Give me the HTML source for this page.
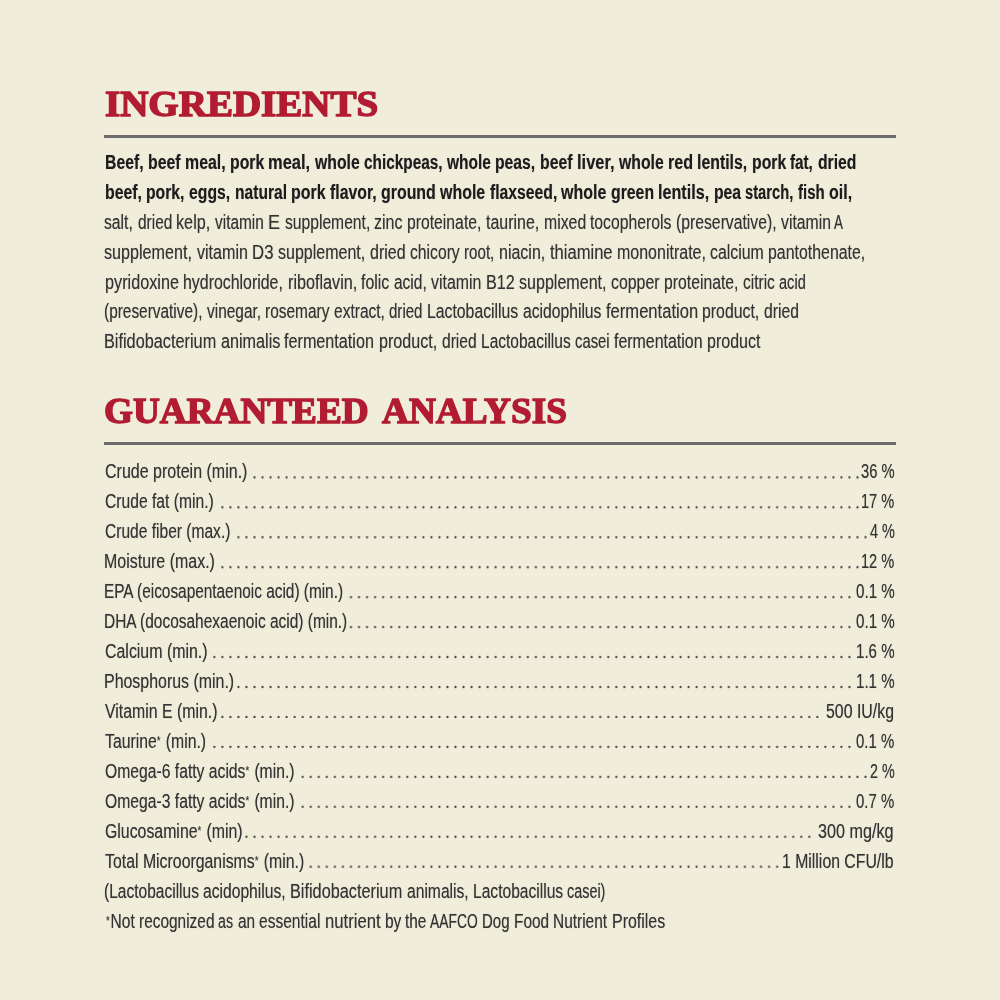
<!DOCTYPE html>
<html><head><meta charset="utf-8"><style>
html,body{margin:0;padding:0}
body{width:1000px;height:1000px;background:#f0eedb;position:relative;overflow:hidden}
.t{position:absolute;white-space:nowrap;transform-origin:0 0;filter:blur(0.5px)}

.rule{position:absolute;left:104px;width:792px;height:3px;background:#6c6c6c;filter:blur(0.4px)}
.ast{font-size:12px;position:relative;top:-3px;margin-right:1px}
.dots{position:absolute;left:0;top:0;filter:blur(0.5px)}
</style></head>
<body>
<div class="rule" style="top:135px"></div>
<div class="rule" style="top:442px"></div>
<svg class="dots" width="1000" height="1000" viewBox="0 0 1000 1000"><defs><pattern id="dp" patternUnits="userSpaceOnUse" x="250.480" y="462.425" width="8.04" height="29.95"><circle cx="4.020" cy="14.975" r="1.15" fill="#454545"/></pattern></defs><rect x="252.00" y="474.40" width="608.00" height="6" fill="url(#dp)"/><rect x="219.84" y="504.35" width="640.16" height="6" fill="url(#dp)"/><rect x="235.92" y="534.30" width="632.12" height="6" fill="url(#dp)"/><rect x="219.84" y="564.25" width="640.16" height="6" fill="url(#dp)"/><rect x="348.48" y="594.20" width="503.48" height="6" fill="url(#dp)"/><rect x="348.48" y="624.15" width="503.48" height="6" fill="url(#dp)"/><rect x="211.80" y="654.10" width="640.16" height="6" fill="url(#dp)"/><rect x="235.92" y="684.05" width="616.04" height="6" fill="url(#dp)"/><rect x="219.84" y="714.00" width="599.96" height="6" fill="url(#dp)"/><rect x="211.80" y="743.95" width="640.16" height="6" fill="url(#dp)"/><rect x="300.24" y="773.90" width="567.80" height="6" fill="url(#dp)"/><rect x="300.24" y="803.85" width="551.72" height="6" fill="url(#dp)"/><rect x="243.96" y="833.80" width="567.80" height="6" fill="url(#dp)"/><rect x="308.28" y="863.75" width="471.32" height="6" fill="url(#dp)"/></svg>
<div class="t" style="left:104.80px;top:148.40px;font-family:'Liberation Sans', sans-serif;font-weight:700;font-size:19.5px;line-height:29px;color:#1c1c1c;transform:scaleX(0.8084);;text-shadow:0 0 1px rgba(40,40,40,0.45)">Beef,</div><div class="t" style="left:147.73px;top:148.40px;font-family:'Liberation Sans', sans-serif;font-weight:700;font-size:19.5px;line-height:29px;color:#1c1c1c;transform:scaleX(0.8123);;text-shadow:0 0 1px rgba(40,40,40,0.45)">beef</div><div class="t" style="left:184.70px;top:148.40px;font-family:'Liberation Sans', sans-serif;font-weight:700;font-size:19.5px;line-height:29px;color:#1c1c1c;transform:scaleX(0.8153);;text-shadow:0 0 1px rgba(40,40,40,0.45)">meal,</div><div class="t" style="left:229.75px;top:148.40px;font-family:'Liberation Sans', sans-serif;font-weight:700;font-size:19.5px;line-height:29px;color:#1c1c1c;transform:scaleX(0.8096);;text-shadow:0 0 1px rgba(40,40,40,0.45)">pork</div><div class="t" style="left:268.35px;top:148.40px;font-family:'Liberation Sans', sans-serif;font-weight:700;font-size:19.5px;line-height:29px;color:#1c1c1c;transform:scaleX(0.8441);;text-shadow:0 0 1px rgba(40,40,40,0.45)">meal,</div><div class="t" style="left:314.84px;top:148.40px;font-family:'Liberation Sans', sans-serif;font-weight:700;font-size:19.5px;line-height:29px;color:#1c1c1c;transform:scaleX(0.8084);;text-shadow:0 0 1px rgba(40,40,40,0.45)">whole</div><div class="t" style="left:363.90px;top:148.40px;font-family:'Liberation Sans', sans-serif;font-weight:700;font-size:19.5px;line-height:29px;color:#1c1c1c;transform:scaleX(0.7875);;text-shadow:0 0 1px rgba(40,40,40,0.45)">chickpeas,</div><div class="t" style="left:446.83px;top:148.40px;font-family:'Liberation Sans', sans-serif;font-weight:700;font-size:19.5px;line-height:29px;color:#1c1c1c;transform:scaleX(0.7953);;text-shadow:0 0 1px rgba(40,40,40,0.45)">whole</div><div class="t" style="left:495.17px;top:148.40px;font-family:'Liberation Sans', sans-serif;font-weight:700;font-size:19.5px;line-height:29px;color:#1c1c1c;transform:scaleX(0.8068);;text-shadow:0 0 1px rgba(40,40,40,0.45)">peas,</div><div class="t" style="left:539.79px;top:148.40px;font-family:'Liberation Sans', sans-serif;font-weight:700;font-size:19.5px;line-height:29px;color:#1c1c1c;transform:scaleX(0.8084);;text-shadow:0 0 1px rgba(40,40,40,0.45)">beef</div><div class="t" style="left:576.60px;top:148.40px;font-family:'Liberation Sans', sans-serif;font-weight:700;font-size:19.5px;line-height:29px;color:#1c1c1c;transform:scaleX(0.8442);;text-shadow:0 0 1px rgba(40,40,40,0.45)">liver,</div><div class="t" style="left:618.51px;top:148.40px;font-family:'Liberation Sans', sans-serif;font-weight:700;font-size:19.5px;line-height:29px;color:#1c1c1c;transform:scaleX(0.8103);;text-shadow:0 0 1px rgba(40,40,40,0.45)">whole</div><div class="t" style="left:667.67px;top:148.40px;font-family:'Liberation Sans', sans-serif;font-weight:700;font-size:19.5px;line-height:29px;color:#1c1c1c;transform:scaleX(0.8293);;text-shadow:0 0 1px rgba(40,40,40,0.45)">red</div><div class="t" style="left:697.23px;top:148.40px;font-family:'Liberation Sans', sans-serif;font-weight:700;font-size:19.5px;line-height:29px;color:#1c1c1c;transform:scaleX(0.8125);;text-shadow:0 0 1px rgba(40,40,40,0.45)">lentils,</div><div class="t" style="left:751.80px;top:148.40px;font-family:'Liberation Sans', sans-serif;font-weight:700;font-size:19.5px;line-height:29px;color:#1c1c1c;transform:scaleX(0.8084);;text-shadow:0 0 1px rgba(40,40,40,0.45)">pork</div><div class="t" style="left:790.35px;top:148.40px;font-family:'Liberation Sans', sans-serif;font-weight:700;font-size:19.5px;line-height:29px;color:#1c1c1c;transform:scaleX(0.7815);;text-shadow:0 0 1px rgba(40,40,40,0.45)">fat,</div><div class="t" style="left:817.60px;top:148.40px;font-family:'Liberation Sans', sans-serif;font-weight:700;font-size:19.5px;line-height:29px;color:#1c1c1c;transform:scaleX(0.8064);;text-shadow:0 0 1px rgba(40,40,40,0.45)">dried</div><div class="t" style="left:104.80px;top:178.20px;font-family:'Liberation Sans', sans-serif;font-weight:700;font-size:19.5px;line-height:29px;color:#1c1c1c;transform:scaleX(0.8136);;text-shadow:0 0 1px rgba(40,40,40,0.45)">beef,</div><div class="t" style="left:146.20px;top:178.20px;font-family:'Liberation Sans', sans-serif;font-weight:700;font-size:19.5px;line-height:29px;color:#1c1c1c;transform:scaleX(0.8067);;text-shadow:0 0 1px rgba(40,40,40,0.45)">pork,</div><div class="t" style="left:189.04px;top:178.20px;font-family:'Liberation Sans', sans-serif;font-weight:700;font-size:19.5px;line-height:29px;color:#1c1c1c;transform:scaleX(0.8078);;text-shadow:0 0 1px rgba(40,40,40,0.45)">eggs,</div><div class="t" style="left:234.56px;top:178.20px;font-family:'Liberation Sans', sans-serif;font-weight:700;font-size:19.5px;line-height:29px;color:#1c1c1c;transform:scaleX(0.7997);;text-shadow:0 0 1px rgba(40,40,40,0.45)">natural</div><div class="t" style="left:290.93px;top:178.20px;font-family:'Liberation Sans', sans-serif;font-weight:700;font-size:19.5px;line-height:29px;color:#1c1c1c;transform:scaleX(0.8176);;text-shadow:0 0 1px rgba(40,40,40,0.45)">pork</div><div class="t" style="left:329.87px;top:178.20px;font-family:'Liberation Sans', sans-serif;font-weight:700;font-size:19.5px;line-height:29px;color:#1c1c1c;transform:scaleX(0.8104);;text-shadow:0 0 1px rgba(40,40,40,0.45)">flavor,</div><div class="t" style="left:380.80px;top:178.20px;font-family:'Liberation Sans', sans-serif;font-weight:700;font-size:19.5px;line-height:29px;color:#1c1c1c;transform:scaleX(0.8165);;text-shadow:0 0 1px rgba(40,40,40,0.45)">ground</div><div class="t" style="left:440.02px;top:178.20px;font-family:'Liberation Sans', sans-serif;font-weight:700;font-size:19.5px;line-height:29px;color:#1c1c1c;transform:scaleX(0.8181);;text-shadow:0 0 1px rgba(40,40,40,0.45)">whole</div><div class="t" style="left:489.60px;top:178.20px;font-family:'Liberation Sans', sans-serif;font-weight:700;font-size:19.5px;line-height:29px;color:#1c1c1c;transform:scaleX(0.8067);;text-shadow:0 0 1px rgba(40,40,40,0.45)">flaxseed,</div><div class="t" style="left:561.32px;top:178.20px;font-family:'Liberation Sans', sans-serif;font-weight:700;font-size:19.5px;line-height:29px;color:#1c1c1c;transform:scaleX(0.8192);;text-shadow:0 0 1px rgba(40,40,40,0.45)">whole</div><div class="t" style="left:610.96px;top:178.20px;font-family:'Liberation Sans', sans-serif;font-weight:700;font-size:19.5px;line-height:29px;color:#1c1c1c;transform:scaleX(0.8108);;text-shadow:0 0 1px rgba(40,40,40,0.45)">green</div><div class="t" style="left:658.40px;top:178.20px;font-family:'Liberation Sans', sans-serif;font-weight:700;font-size:19.5px;line-height:29px;color:#1c1c1c;transform:scaleX(0.8280);;text-shadow:0 0 1px rgba(40,40,40,0.45)">lentils,</div><div class="t" style="left:713.91px;top:178.20px;font-family:'Liberation Sans', sans-serif;font-weight:700;font-size:19.5px;line-height:29px;color:#1c1c1c;transform:scaleX(0.8067);;text-shadow:0 0 1px rgba(40,40,40,0.45)">pea</div><div class="t" style="left:745.40px;top:178.20px;font-family:'Liberation Sans', sans-serif;font-weight:700;font-size:19.5px;line-height:29px;color:#1c1c1c;transform:scaleX(0.7541);;text-shadow:0 0 1px rgba(40,40,40,0.45)">starch,</div><div class="t" style="left:798.00px;top:178.20px;font-family:'Liberation Sans', sans-serif;font-weight:700;font-size:19.5px;line-height:29px;color:#1c1c1c;transform:scaleX(0.7672);;text-shadow:0 0 1px rgba(40,40,40,0.45)">fish</div><div class="t" style="left:829.00px;top:178.20px;font-family:'Liberation Sans', sans-serif;font-weight:700;font-size:19.5px;line-height:29px;color:#1c1c1c;transform:scaleX(0.8214);;text-shadow:0 0 1px rgba(40,40,40,0.45)">oil,</div><div class="t" style="left:104.40px;top:208.00px;font-family:'Liberation Sans', sans-serif;font-weight:400;font-size:19.5px;line-height:29px;color:#333333;transform:scaleX(0.8066);;text-shadow:0 0 1px rgba(40,40,40,0.45)">salt,</div><div class="t" style="left:137.62px;top:208.00px;font-family:'Liberation Sans', sans-serif;font-weight:400;font-size:19.5px;line-height:29px;color:#333333;transform:scaleX(0.7930);;text-shadow:0 0 1px rgba(40,40,40,0.45)">dried</div><div class="t" style="left:176.39px;top:208.00px;font-family:'Liberation Sans', sans-serif;font-weight:400;font-size:19.5px;line-height:29px;color:#333333;transform:scaleX(0.8317);;text-shadow:0 0 1px rgba(40,40,40,0.45)">kelp,</div><div class="t" style="left:215.01px;top:208.00px;font-family:'Liberation Sans', sans-serif;font-weight:400;font-size:19.5px;line-height:29px;color:#333333;transform:scaleX(0.7903);;text-shadow:0 0 1px rgba(40,40,40,0.45)">vitamin</div><div class="t" style="left:268.08px;top:208.00px;font-family:'Liberation Sans', sans-serif;font-weight:400;font-size:19.5px;line-height:29px;color:#333333;transform:scaleX(0.9275);;text-shadow:0 0 1px rgba(40,40,40,0.45)">E</div><div class="t" style="left:284.84px;top:208.00px;font-family:'Liberation Sans', sans-serif;font-weight:400;font-size:19.5px;line-height:29px;color:#333333;transform:scaleX(0.8023);;text-shadow:0 0 1px rgba(40,40,40,0.45)">supplement,</div><div class="t" style="left:374.45px;top:208.00px;font-family:'Liberation Sans', sans-serif;font-weight:400;font-size:19.5px;line-height:29px;color:#333333;transform:scaleX(0.8194);;text-shadow:0 0 1px rgba(40,40,40,0.45)">zinc</div><div class="t" style="left:407.25px;top:208.00px;font-family:'Liberation Sans', sans-serif;font-weight:400;font-size:19.5px;line-height:29px;color:#333333;transform:scaleX(0.8071);;text-shadow:0 0 1px rgba(40,40,40,0.45)">proteinate,</div><div class="t" style="left:486.00px;top:208.00px;font-family:'Liberation Sans', sans-serif;font-weight:400;font-size:19.5px;line-height:29px;color:#333333;transform:scaleX(0.8185);;text-shadow:0 0 1px rgba(40,40,40,0.45)">taurine,</div><div class="t" style="left:543.60px;top:208.00px;font-family:'Liberation Sans', sans-serif;font-weight:400;font-size:19.5px;line-height:29px;color:#333333;transform:scaleX(0.8116);;text-shadow:0 0 1px rgba(40,40,40,0.45)">mixed</div><div class="t" style="left:590.20px;top:208.00px;font-family:'Liberation Sans', sans-serif;font-weight:400;font-size:19.5px;line-height:29px;color:#333333;transform:scaleX(0.8066);;text-shadow:0 0 1px rgba(40,40,40,0.45)">tocopherols</div><div class="t" style="left:675.90px;top:208.00px;font-family:'Liberation Sans', sans-serif;font-weight:400;font-size:19.5px;line-height:29px;color:#333333;transform:scaleX(0.8074);;text-shadow:0 0 1px rgba(40,40,40,0.45)">(preservative),</div><div class="t" style="left:780.89px;top:208.00px;font-family:'Liberation Sans', sans-serif;font-weight:400;font-size:19.5px;line-height:29px;color:#333333;transform:scaleX(0.8094);;text-shadow:0 0 1px rgba(40,40,40,0.45)">vitamin</div><div class="t" style="left:834.40px;top:208.00px;font-family:'Liberation Sans', sans-serif;font-weight:400;font-size:19.5px;line-height:29px;color:#333333;transform:scaleX(0.6856);;text-shadow:0 0 1px rgba(40,40,40,0.45)">A</div><div class="t" style="left:104.40px;top:237.80px;font-family:'Liberation Sans', sans-serif;font-weight:400;font-size:19.5px;line-height:29px;color:#333333;transform:scaleX(0.8280);;text-shadow:0 0 1px rgba(40,40,40,0.45)">supplement,</div><div class="t" style="left:196.80px;top:237.80px;font-family:'Liberation Sans', sans-serif;font-weight:400;font-size:19.5px;line-height:29px;color:#333333;transform:scaleX(0.8246);;text-shadow:0 0 1px rgba(40,40,40,0.45)">vitamin</div><div class="t" style="left:252.15px;top:237.80px;font-family:'Liberation Sans', sans-serif;font-weight:400;font-size:19.5px;line-height:29px;color:#333333;transform:scaleX(0.8615);;text-shadow:0 0 1px rgba(40,40,40,0.45)">D3</div><div class="t" style="left:278.09px;top:237.80px;font-family:'Liberation Sans', sans-serif;font-weight:400;font-size:19.5px;line-height:29px;color:#333333;transform:scaleX(0.8215);;text-shadow:0 0 1px rgba(40,40,40,0.45)">supplement,</div><div class="t" style="left:369.80px;top:237.80px;font-family:'Liberation Sans', sans-serif;font-weight:400;font-size:19.5px;line-height:29px;color:#333333;transform:scaleX(0.8204);;text-shadow:0 0 1px rgba(40,40,40,0.45)">dried</div><div class="t" style="left:409.83px;top:237.80px;font-family:'Liberation Sans', sans-serif;font-weight:400;font-size:19.5px;line-height:29px;color:#333333;transform:scaleX(0.8048);;text-shadow:0 0 1px rgba(40,40,40,0.45)">chicory</div><div class="t" style="left:464.00px;top:237.80px;font-family:'Liberation Sans', sans-serif;font-weight:400;font-size:19.5px;line-height:29px;color:#333333;transform:scaleX(0.7765);;text-shadow:0 0 1px rgba(40,40,40,0.45)">root,</div><div class="t" style="left:498.80px;top:237.80px;font-family:'Liberation Sans', sans-serif;font-weight:400;font-size:19.5px;line-height:29px;color:#333333;transform:scaleX(0.8204);;text-shadow:0 0 1px rgba(40,40,40,0.45)">niacin,</div><div class="t" style="left:549.50px;top:237.80px;font-family:'Liberation Sans', sans-serif;font-weight:400;font-size:19.5px;line-height:29px;color:#333333;transform:scaleX(0.8486);;text-shadow:0 0 1px rgba(40,40,40,0.45)">thiamine</div><div class="t" style="left:616.51px;top:237.80px;font-family:'Liberation Sans', sans-serif;font-weight:400;font-size:19.5px;line-height:29px;color:#333333;transform:scaleX(0.8204);;text-shadow:0 0 1px rgba(40,40,40,0.45)">mononitrate,</div><div class="t" style="left:709.90px;top:237.80px;font-family:'Liberation Sans', sans-serif;font-weight:400;font-size:19.5px;line-height:29px;color:#333333;transform:scaleX(0.8131);;text-shadow:0 0 1px rgba(40,40,40,0.45)">calcium</div><div class="t" style="left:768.10px;top:237.80px;font-family:'Liberation Sans', sans-serif;font-weight:400;font-size:19.5px;line-height:29px;color:#333333;transform:scaleX(0.8153);;text-shadow:0 0 1px rgba(40,40,40,0.45)">pantothenate,</div><div class="t" style="left:104.80px;top:267.60px;font-family:'Liberation Sans', sans-serif;font-weight:400;font-size:19.5px;line-height:29px;color:#333333;transform:scaleX(0.8323);;text-shadow:0 0 1px rgba(40,40,40,0.45)">pyridoxine</div><div class="t" style="left:183.20px;top:267.60px;font-family:'Liberation Sans', sans-serif;font-weight:400;font-size:19.5px;line-height:29px;color:#333333;transform:scaleX(0.8155);;text-shadow:0 0 1px rgba(40,40,40,0.45)">hydrochloride,</div><div class="t" style="left:287.50px;top:267.60px;font-family:'Liberation Sans', sans-serif;font-weight:400;font-size:19.5px;line-height:29px;color:#333333;transform:scaleX(0.8302);;text-shadow:0 0 1px rgba(40,40,40,0.45)">riboflavin,</div><div class="t" style="left:361.20px;top:267.60px;font-family:'Liberation Sans', sans-serif;font-weight:400;font-size:19.5px;line-height:29px;color:#333333;transform:scaleX(0.8144);;text-shadow:0 0 1px rgba(40,40,40,0.45)">folic</div><div class="t" style="left:393.87px;top:267.60px;font-family:'Liberation Sans', sans-serif;font-weight:400;font-size:19.5px;line-height:29px;color:#333333;transform:scaleX(0.7949);;text-shadow:0 0 1px rgba(40,40,40,0.45)">acid,</div><div class="t" style="left:431.06px;top:267.60px;font-family:'Liberation Sans', sans-serif;font-weight:400;font-size:19.5px;line-height:29px;color:#333333;transform:scaleX(0.8144);;text-shadow:0 0 1px rgba(40,40,40,0.45)">vitamin</div><div class="t" style="left:485.77px;top:267.60px;font-family:'Liberation Sans', sans-serif;font-weight:400;font-size:19.5px;line-height:29px;color:#333333;transform:scaleX(0.8307);;text-shadow:0 0 1px rgba(40,40,40,0.45)">B12</div><div class="t" style="left:519.00px;top:267.60px;font-family:'Liberation Sans', sans-serif;font-weight:400;font-size:19.5px;line-height:29px;color:#333333;transform:scaleX(0.8239);;text-shadow:0 0 1px rgba(40,40,40,0.45)">supplement,</div><div class="t" style="left:610.93px;top:267.60px;font-family:'Liberation Sans', sans-serif;font-weight:400;font-size:19.5px;line-height:29px;color:#333333;transform:scaleX(0.8144);;text-shadow:0 0 1px rgba(40,40,40,0.45)">copper</div><div class="t" style="left:663.90px;top:267.60px;font-family:'Liberation Sans', sans-serif;font-weight:400;font-size:19.5px;line-height:29px;color:#333333;transform:scaleX(0.8082);;text-shadow:0 0 1px rgba(40,40,40,0.45)">proteinate,</div><div class="t" style="left:742.80px;top:267.60px;font-family:'Liberation Sans', sans-serif;font-weight:400;font-size:19.5px;line-height:29px;color:#333333;transform:scaleX(0.7955);;text-shadow:0 0 1px rgba(40,40,40,0.45)">citric</div><div class="t" style="left:779.10px;top:267.60px;font-family:'Liberation Sans', sans-serif;font-weight:400;font-size:19.5px;line-height:29px;color:#333333;transform:scaleX(0.7472);;text-shadow:0 0 1px rgba(40,40,40,0.45)">acid</div><div class="t" style="left:104.00px;top:297.40px;font-family:'Liberation Sans', sans-serif;font-weight:400;font-size:19.5px;line-height:29px;color:#333333;transform:scaleX(0.7901);;text-shadow:0 0 1px rgba(40,40,40,0.45)">(preservative),</div><div class="t" style="left:206.83px;top:297.40px;font-family:'Liberation Sans', sans-serif;font-weight:400;font-size:19.5px;line-height:29px;color:#333333;transform:scaleX(0.7916);;text-shadow:0 0 1px rgba(40,40,40,0.45)">vinegar,</div><div class="t" style="left:265.27px;top:297.40px;font-family:'Liberation Sans', sans-serif;font-weight:400;font-size:19.5px;line-height:29px;color:#333333;transform:scaleX(0.7933);;text-shadow:0 0 1px rgba(40,40,40,0.45)">rosemary</div><div class="t" style="left:334.10px;top:297.40px;font-family:'Liberation Sans', sans-serif;font-weight:400;font-size:19.5px;line-height:29px;color:#333333;transform:scaleX(0.7962);;text-shadow:0 0 1px rgba(40,40,40,0.45)">extract,</div><div class="t" style="left:389.37px;top:297.40px;font-family:'Liberation Sans', sans-serif;font-weight:400;font-size:19.5px;line-height:29px;color:#333333;transform:scaleX(0.7719);;text-shadow:0 0 1px rgba(40,40,40,0.45)">dried</div><div class="t" style="left:427.22px;top:297.40px;font-family:'Liberation Sans', sans-serif;font-weight:400;font-size:19.5px;line-height:29px;color:#333333;transform:scaleX(0.8092);;text-shadow:0 0 1px rgba(40,40,40,0.45)">Lactobacillus</div><div class="t" style="left:522.81px;top:297.40px;font-family:'Liberation Sans', sans-serif;font-weight:400;font-size:19.5px;line-height:29px;color:#333333;transform:scaleX(0.8038);;text-shadow:0 0 1px rgba(40,40,40,0.45)">acidophilus</div><div class="t" style="left:605.60px;top:297.40px;font-family:'Liberation Sans', sans-serif;font-weight:400;font-size:19.5px;line-height:29px;color:#333333;transform:scaleX(0.8501);;text-shadow:0 0 1px rgba(40,40,40,0.45)">fermentation</div><div class="t" style="left:702.10px;top:297.40px;font-family:'Liberation Sans', sans-serif;font-weight:400;font-size:19.5px;line-height:29px;color:#333333;transform:scaleX(0.8124);;text-shadow:0 0 1px rgba(40,40,40,0.45)">product,</div><div class="t" style="left:763.70px;top:297.40px;font-family:'Liberation Sans', sans-serif;font-weight:400;font-size:19.5px;line-height:29px;color:#333333;transform:scaleX(0.8047);;text-shadow:0 0 1px rgba(40,40,40,0.45)">dried</div><div class="t" style="left:103.97px;top:327.20px;font-family:'Liberation Sans', sans-serif;font-weight:400;font-size:19.5px;line-height:29px;color:#333333;transform:scaleX(0.8349);;text-shadow:0 0 1px rgba(40,40,40,0.45)">Bifidobacterium</div><div class="t" style="left:220.60px;top:327.20px;font-family:'Liberation Sans', sans-serif;font-weight:400;font-size:19.5px;line-height:29px;color:#333333;transform:scaleX(0.8299);;text-shadow:0 0 1px rgba(40,40,40,0.45)">animalis</div><div class="t" style="left:284.40px;top:327.20px;font-family:'Liberation Sans', sans-serif;font-weight:400;font-size:19.5px;line-height:29px;color:#333333;transform:scaleX(0.8300);;text-shadow:0 0 1px rgba(40,40,40,0.45)">fermentation</div><div class="t" style="left:378.80px;top:327.20px;font-family:'Liberation Sans', sans-serif;font-weight:400;font-size:19.5px;line-height:29px;color:#333333;transform:scaleX(0.8272);;text-shadow:0 0 1px rgba(40,40,40,0.45)">product,</div><div class="t" style="left:441.52px;top:327.20px;font-family:'Liberation Sans', sans-serif;font-weight:400;font-size:19.5px;line-height:29px;color:#333333;transform:scaleX(0.8002);;text-shadow:0 0 1px rgba(40,40,40,0.45)">dried</div><div class="t" style="left:480.69px;top:327.20px;font-family:'Liberation Sans', sans-serif;font-weight:400;font-size:19.5px;line-height:29px;color:#333333;transform:scaleX(0.7956);;text-shadow:0 0 1px rgba(40,40,40,0.45)">Lactobacillus</div><div class="t" style="left:574.80px;top:327.20px;font-family:'Liberation Sans', sans-serif;font-weight:400;font-size:19.5px;line-height:29px;color:#333333;transform:scaleX(0.7588);;text-shadow:0 0 1px rgba(40,40,40,0.45)">casei</div><div class="t" style="left:613.81px;top:327.20px;font-family:'Liberation Sans', sans-serif;font-weight:400;font-size:19.5px;line-height:29px;color:#333333;transform:scaleX(0.8169);;text-shadow:0 0 1px rgba(40,40,40,0.45)">fermentation</div><div class="t" style="left:706.80px;top:327.20px;font-family:'Liberation Sans', sans-serif;font-weight:400;font-size:19.5px;line-height:29px;color:#333333;transform:scaleX(0.8212);;text-shadow:0 0 1px rgba(40,40,40,0.45)">product</div><div class="t c" style="left:104.60px;top:457.30px;font-family:'Liberation Sans', sans-serif;font-weight:400;font-size:19.5px;line-height:29px;color:#333333;transform:scaleX(0.8214);;text-shadow:0 0 1px rgba(40,40,40,0.45)">Crude protein (min.)</div><div class="t c" style="left:860.70px;top:457.30px;font-family:'Liberation Sans', sans-serif;font-weight:400;font-size:19.5px;line-height:29px;color:#333333;transform:scaleX(0.7578);;text-shadow:0 0 1px rgba(40,40,40,0.45)">36 %</div><div class="t c" style="left:104.60px;top:487.25px;font-family:'Liberation Sans', sans-serif;font-weight:400;font-size:19.5px;line-height:29px;color:#333333;transform:scaleX(0.8030);;text-shadow:0 0 1px rgba(40,40,40,0.45)">Crude fat (min.)</div><div class="t c" style="left:861.15px;top:487.25px;font-family:'Liberation Sans', sans-serif;font-weight:400;font-size:19.5px;line-height:29px;color:#333333;transform:scaleX(0.7477);;text-shadow:0 0 1px rgba(40,40,40,0.45)">17 %</div><div class="t c" style="left:104.60px;top:517.20px;font-family:'Liberation Sans', sans-serif;font-weight:400;font-size:19.5px;line-height:29px;color:#333333;transform:scaleX(0.7981);;text-shadow:0 0 1px rgba(40,40,40,0.45)">Crude fiber (max.)</div><div class="t c" style="left:869.60px;top:517.20px;font-family:'Liberation Sans', sans-serif;font-weight:400;font-size:19.5px;line-height:29px;color:#333333;transform:scaleX(0.7412);;text-shadow:0 0 1px rgba(40,40,40,0.45)">4 %</div><div class="t c" style="left:103.78px;top:547.15px;font-family:'Liberation Sans', sans-serif;font-weight:400;font-size:19.5px;line-height:29px;color:#333333;transform:scaleX(0.8187);;text-shadow:0 0 1px rgba(40,40,40,0.45)">Moisture (max.)</div><div class="t c" style="left:861.15px;top:547.15px;font-family:'Liberation Sans', sans-serif;font-weight:400;font-size:19.5px;line-height:29px;color:#333333;transform:scaleX(0.7477);;text-shadow:0 0 1px rgba(40,40,40,0.45)">12 %</div><div class="t c" style="left:103.81px;top:577.10px;font-family:'Liberation Sans', sans-serif;font-weight:400;font-size:19.5px;line-height:29px;color:#333333;transform:scaleX(0.7887);;text-shadow:0 0 1px rgba(40,40,40,0.45)">EPA (eicosapentaenoic acid) (min.)</div><div class="t c" style="left:855.90px;top:577.10px;font-family:'Liberation Sans', sans-serif;font-weight:400;font-size:19.5px;line-height:29px;color:#333333;transform:scaleX(0.7780);;text-shadow:0 0 1px rgba(40,40,40,0.45)">0.1 %</div><div class="t c" style="left:103.81px;top:607.05px;font-family:'Liberation Sans', sans-serif;font-weight:400;font-size:19.5px;line-height:29px;color:#333333;transform:scaleX(0.7931);;text-shadow:0 0 1px rgba(40,40,40,0.45)">DHA (docosahexaenoic acid) (min.)</div><div class="t c" style="left:855.90px;top:607.05px;font-family:'Liberation Sans', sans-serif;font-weight:400;font-size:19.5px;line-height:29px;color:#333333;transform:scaleX(0.7780);;text-shadow:0 0 1px rgba(40,40,40,0.45)">0.1 %</div><div class="t c" style="left:104.60px;top:637.00px;font-family:'Liberation Sans', sans-serif;font-weight:400;font-size:19.5px;line-height:29px;color:#333333;transform:scaleX(0.8160);;text-shadow:0 0 1px rgba(40,40,40,0.45)">Calcium (min.)</div><div class="t c" style="left:856.13px;top:637.00px;font-family:'Liberation Sans', sans-serif;font-weight:400;font-size:19.5px;line-height:29px;color:#333333;transform:scaleX(0.7735);;text-shadow:0 0 1px rgba(40,40,40,0.45)">1.6 %</div><div class="t c" style="left:103.78px;top:666.95px;font-family:'Liberation Sans', sans-serif;font-weight:400;font-size:19.5px;line-height:29px;color:#333333;transform:scaleX(0.8171);;text-shadow:0 0 1px rgba(40,40,40,0.45)">Phosphorus (min.)</div><div class="t c" style="left:856.13px;top:666.95px;font-family:'Liberation Sans', sans-serif;font-weight:400;font-size:19.5px;line-height:29px;color:#333333;transform:scaleX(0.7735);;text-shadow:0 0 1px rgba(40,40,40,0.45)">1.1 %</div><div class="t c" style="left:104.60px;top:696.90px;font-family:'Liberation Sans', sans-serif;font-weight:400;font-size:19.5px;line-height:29px;color:#333333;transform:scaleX(0.8127);;text-shadow:0 0 1px rgba(40,40,40,0.45)">Vitamin E (min.)</div><div class="t c" style="left:826.00px;top:696.90px;font-family:'Liberation Sans', sans-serif;font-weight:400;font-size:19.5px;line-height:29px;color:#333333;transform:scaleX(0.8145);;text-shadow:0 0 1px rgba(40,40,40,0.45)">500 IU/kg</div><div class="t c" style="left:104.60px;top:726.85px;font-family:'Liberation Sans', sans-serif;font-weight:400;font-size:19.5px;line-height:29px;color:#333333;transform:scaleX(0.8092);;text-shadow:0 0 1px rgba(40,40,40,0.45)">Taurine<span class="ast">*</span> (min.)</div><div class="t c" style="left:856.20px;top:726.85px;font-family:'Liberation Sans', sans-serif;font-weight:400;font-size:19.5px;line-height:29px;color:#333333;transform:scaleX(0.7660);;text-shadow:0 0 1px rgba(40,40,40,0.45)">0.1 %</div><div class="t c" style="left:104.60px;top:756.80px;font-family:'Liberation Sans', sans-serif;font-weight:400;font-size:19.5px;line-height:29px;color:#333333;transform:scaleX(0.8049);;text-shadow:0 0 1px rgba(40,40,40,0.45)">Omega-6 fatty acids<span class="ast">*</span> (min.)</div><div class="t c" style="left:869.50px;top:756.80px;font-family:'Liberation Sans', sans-serif;font-weight:400;font-size:19.5px;line-height:29px;color:#333333;transform:scaleX(0.7353);;text-shadow:0 0 1px rgba(40,40,40,0.45)">2 %</div><div class="t c" style="left:104.60px;top:786.75px;font-family:'Liberation Sans', sans-serif;font-weight:400;font-size:19.5px;line-height:29px;color:#333333;transform:scaleX(0.8049);;text-shadow:0 0 1px rgba(40,40,40,0.45)">Omega-3 fatty acids<span class="ast">*</span> (min.)</div><div class="t c" style="left:856.20px;top:786.75px;font-family:'Liberation Sans', sans-serif;font-weight:400;font-size:19.5px;line-height:29px;color:#333333;transform:scaleX(0.7660);;text-shadow:0 0 1px rgba(40,40,40,0.45)">0.7 %</div><div class="t c" style="left:104.60px;top:816.70px;font-family:'Liberation Sans', sans-serif;font-weight:400;font-size:19.5px;line-height:29px;color:#333333;transform:scaleX(0.8130);;text-shadow:0 0 1px rgba(40,40,40,0.45)">Glucosamine<span class="ast">*</span> (min)</div><div class="t c" style="left:818.10px;top:816.70px;font-family:'Liberation Sans', sans-serif;font-weight:400;font-size:19.5px;line-height:29px;color:#333333;transform:scaleX(0.8297);;text-shadow:0 0 1px rgba(40,40,40,0.45)">300 mg/kg</div><div class="t c" style="left:104.60px;top:846.65px;font-family:'Liberation Sans', sans-serif;font-weight:400;font-size:19.5px;line-height:29px;color:#333333;transform:scaleX(0.8129);;text-shadow:0 0 1px rgba(40,40,40,0.45)">Total Microorganisms<span class="ast">*</span> (min.)</div><div class="t c" style="left:781.79px;top:846.65px;font-family:'Liberation Sans', sans-serif;font-weight:400;font-size:19.5px;line-height:29px;color:#333333;transform:scaleX(0.8102);;text-shadow:0 0 1px rgba(40,40,40,0.45)">1 Million CFU/lb</div><div class="t" style="left:104.00px;top:876.60px;font-family:'Liberation Sans', sans-serif;font-weight:400;font-size:19.5px;line-height:29px;color:#333333;transform:scaleX(0.7962);;text-shadow:0 0 1px rgba(40,40,40,0.45)">(Lactobacillus</div><div class="t" style="left:203.28px;top:876.60px;font-family:'Liberation Sans', sans-serif;font-weight:400;font-size:19.5px;line-height:29px;color:#333333;transform:scaleX(0.8018);;text-shadow:0 0 1px rgba(40,40,40,0.45)">acidophilus,</div><div class="t" style="left:290.17px;top:876.60px;font-family:'Liberation Sans', sans-serif;font-weight:400;font-size:19.5px;line-height:29px;color:#333333;transform:scaleX(0.8348);;text-shadow:0 0 1px rgba(40,40,40,0.45)">Bifidobacterium</div><div class="t" style="left:406.70px;top:876.60px;font-family:'Liberation Sans', sans-serif;font-weight:400;font-size:19.5px;line-height:29px;color:#333333;transform:scaleX(0.8018);;text-shadow:0 0 1px rgba(40,40,40,0.45)">animalis,</div><div class="t" style="left:472.75px;top:876.60px;font-family:'Liberation Sans', sans-serif;font-weight:400;font-size:19.5px;line-height:29px;color:#333333;transform:scaleX(0.7993);;text-shadow:0 0 1px rgba(40,40,40,0.45)">Lactobacillus</div><div class="t" style="left:567.20px;top:876.60px;font-family:'Liberation Sans', sans-serif;font-weight:400;font-size:19.5px;line-height:29px;color:#333333;transform:scaleX(0.7385);;text-shadow:0 0 1px rgba(40,40,40,0.45)">casei)</div><div class="t" style="left:105.50px;top:906.55px;font-family:'Liberation Sans', sans-serif;font-weight:400;font-size:19.5px;line-height:29px;color:#333333;transform:scaleX(0.7967);;text-shadow:0 0 1px rgba(40,40,40,0.45)"><span class="ast">*</span>Not</div><div class="t" style="left:138.50px;top:906.55px;font-family:'Liberation Sans', sans-serif;font-weight:400;font-size:19.5px;line-height:29px;color:#333333;transform:scaleX(0.7910);;text-shadow:0 0 1px rgba(40,40,40,0.45)">recognized</div><div class="t" style="left:218.25px;top:906.55px;font-family:'Liberation Sans', sans-serif;font-weight:400;font-size:19.5px;line-height:29px;color:#333333;transform:scaleX(0.7271);;text-shadow:0 0 1px rgba(40,40,40,0.45)">as</div><div class="t" style="left:237.50px;top:906.55px;font-family:'Liberation Sans', sans-serif;font-weight:400;font-size:19.5px;line-height:29px;color:#333333;transform:scaleX(0.7910);;text-shadow:0 0 1px rgba(40,40,40,0.45)">an</div><div class="t" style="left:258.95px;top:906.55px;font-family:'Liberation Sans', sans-serif;font-weight:400;font-size:19.5px;line-height:29px;color:#333333;transform:scaleX(0.7972);;text-shadow:0 0 1px rgba(40,40,40,0.45)">essential</div><div class="t" style="left:324.60px;top:906.55px;font-family:'Liberation Sans', sans-serif;font-weight:400;font-size:19.5px;line-height:29px;color:#333333;transform:scaleX(0.8557);;text-shadow:0 0 1px rgba(40,40,40,0.45)">nutrient</div><div class="t" style="left:384.61px;top:906.55px;font-family:'Liberation Sans', sans-serif;font-weight:400;font-size:19.5px;line-height:29px;color:#333333;transform:scaleX(0.7952);;text-shadow:0 0 1px rgba(40,40,40,0.45)">by</div><div class="t" style="left:405.29px;top:906.55px;font-family:'Liberation Sans', sans-serif;font-weight:400;font-size:19.5px;line-height:29px;color:#333333;transform:scaleX(0.7876);;text-shadow:0 0 1px rgba(40,40,40,0.45)">the</div><div class="t" style="left:430.08px;top:906.55px;font-family:'Liberation Sans', sans-serif;font-weight:400;font-size:19.5px;line-height:29px;color:#333333;transform:scaleX(0.7119);;text-shadow:0 0 1px rgba(40,40,40,0.45)">AAFCO</div><div class="t" style="left:482.23px;top:906.55px;font-family:'Liberation Sans', sans-serif;font-weight:400;font-size:19.5px;line-height:29px;color:#333333;transform:scaleX(0.7684);;text-shadow:0 0 1px rgba(40,40,40,0.45)">Dog</div><div class="t" style="left:514.01px;top:906.55px;font-family:'Liberation Sans', sans-serif;font-weight:400;font-size:19.5px;line-height:29px;color:#333333;transform:scaleX(0.7910);;text-shadow:0 0 1px rgba(40,40,40,0.45)">Food</div><div class="t" style="left:553.46px;top:906.55px;font-family:'Liberation Sans', sans-serif;font-weight:400;font-size:19.5px;line-height:29px;color:#333333;transform:scaleX(0.7918);;text-shadow:0 0 1px rgba(40,40,40,0.45)">Nutrient</div><div class="t" style="left:611.78px;top:906.55px;font-family:'Liberation Sans', sans-serif;font-weight:400;font-size:19.5px;line-height:29px;color:#333333;transform:scaleX(0.8187);;text-shadow:0 0 1px rgba(40,40,40,0.45)">Profiles</div><div class="t" style="left:104.50px;top:76.80px;font-family:'Liberation Serif', serif;font-weight:700;font-size:36.0px;line-height:54px;color:#b21c32;transform:scaleX(1.0837);word-spacing:6px;-webkit-text-stroke:1.4px #b21c32;text-shadow:0 0 1px rgba(178,28,50,0.6)">INGREDIENTS</div><div class="t" style="left:104.47px;top:383.80px;font-family:'Liberation Serif', serif;font-weight:700;font-size:36.0px;line-height:54px;color:#b21c32;transform:scaleX(1.0336);word-spacing:6px;-webkit-text-stroke:1.4px #b21c32;text-shadow:0 0 1px rgba(178,28,50,0.6)">GUARANTEED ANALYSIS</div>
</body></html>
